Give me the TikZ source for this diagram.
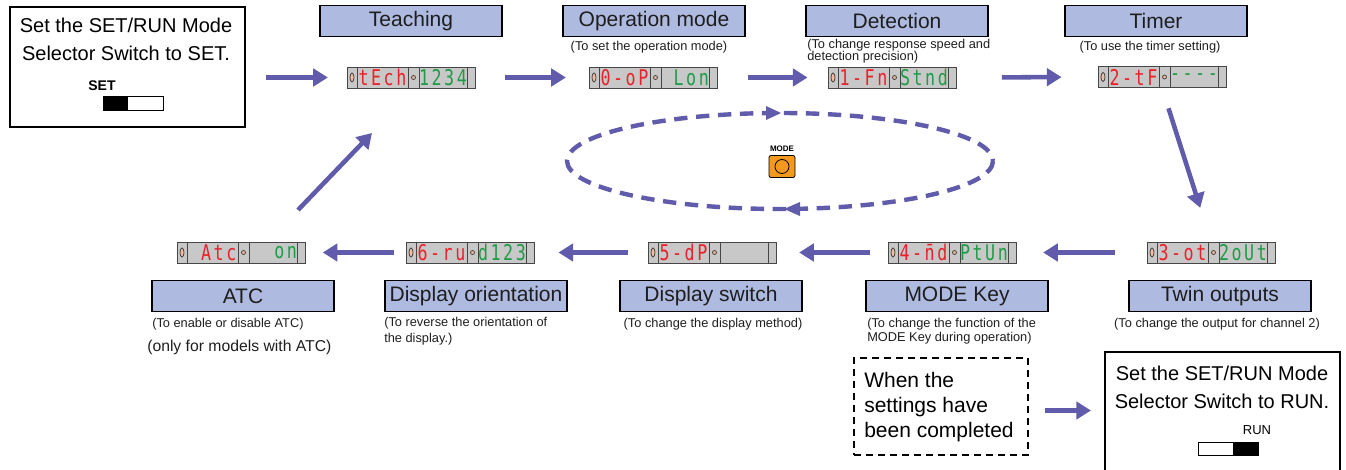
\documentclass[tikz,border=0pt]{standalone}
\usepackage{fontspec}
\usepackage{graphicx}
\setmainfont{Liberation Sans}
\newfontfamily\segfont{DejaVu Sans Mono}
\usetikzlibrary{arrows.meta,calc}

\definecolor{flowblue}{RGB}{96,91,170}
\definecolor{titlefill}{RGB}{174,186,223}
\definecolor{lcdgray}{RGB}{200,200,200}
\definecolor{lcdedge}{RGB}{70,70,70}
\definecolor{segred}{RGB}{232,33,43}
\definecolor{seggreen}{RGB}{31,155,72}
\definecolor{lampfill}{RGB}{243,186,160}
\definecolor{keyorange}{RGB}{243,154,30}
\definecolor{inktext}{RGB}{30,30,30}

% four fixed-width character cells of a 7-segment readout
\newcommand\digits[4]{\scalebox{1}[1.3]{\makebox[9.4pt]{#1}\makebox[9.4pt]{#2}\makebox[9.4pt]{#3}\makebox[9.4pt]{#4}}}

% readout panel: name, centre, red digits, green digits
\newcommand\lcd[4]{%
  \begin{scope}[shift={#2}]
    \node[lcdframe] (#1) at (0,0) {};
    \draw[lcdline] (-54,-10.5) -- (-54,10.5) (-3,-10.5) -- (-3,10.5)
                   (8,-10.5) -- (8,10.5) (56,-10.5) -- (56,10.5);
    \draw[lcdline, fill=lampfill] (-59,0) ellipse [x radius=2, y radius=4.5];
    \draw[lcdline, fill=lampfill] (2.5,0) circle [radius=2];
    \node[segtext, text=segred] (#1-red) at (-28.5,0) {#3};
    \node[segtext, text=seggreen] (#1-green) at (32,0) {#4};
  \end{scope}}

\tikzset{
  lcdframe/.style={rectangle, draw=lcdedge, fill=lcdgray, line width=0.7pt,
    minimum width=96pt, minimum height=15.75pt, inner sep=0pt},
  lcdline/.style={draw=lcdedge, line width=0.6pt},
  segtext/.style={font=\segfont\fontsize{12.5pt}{13pt}\selectfont, inner sep=0pt},
  titlebox/.style={rectangle, draw=black, line width=1.1pt, fill=titlefill,
    minimum width=136.5pt, minimum height=23.5pt, inner sep=0pt,
    text=inktext, font=\fontsize{15.75pt}{18pt}\selectfont},
  note/.style={inner sep=0pt, text=inktext, font=\fontsize{9.6pt}{9pt}\selectfont},
  bignote/.style={inner sep=0pt, text=black, font=\fontsize{15pt}{18pt}\selectfont},
  flow/.style={draw=flowblue, line width=3.4pt, -{Triangle[length=11pt,width=13pt]}},
  cycleline/.style={draw=flowblue, line width=3.3pt, dash pattern=on 10pt off 6.5pt},
  frame/.style={rectangle, draw=black, line width=1.1pt, inner sep=0pt},
  slider/.style={rectangle, draw=black, line width=0.6pt, fill=white, inner sep=0pt,
    minimum width=45pt, minimum height=10pt},
}

\begin{document}
\begin{tikzpicture}[x=0.75pt, y=-0.75pt]
\useasboundingbox (0,0) rectangle (1346,470);

% ---------- start: switch to SET ----------
\node[frame, minimum width=176.25pt, minimum height=90pt] (setbox) at (127.5,67) {};
\node[bignote] (setL1) at (126,25) {Set the SET/RUN Mode};
\node[bignote] (setL2) at (126,53) {Selector Switch to SET.};
\node[inner sep=0pt, font=\bfseries\fontsize{10.5pt}{11pt}\selectfont] (setlab) at (102,86) {SET};
\node[slider] (setsw) at (133,103.5) {};
\fill ($(setsw.south west)+(0.3pt,0.3pt)$) rectangle ($(setsw.north west)+(25,0)$);

% ---------- top row ----------
\node[titlebox] (tTeach) at (411,21) {Teaching};
\node[titlebox] (tOp) at (654,21) {Operation mode};
\node[titlebox] (tDet) at (897,21) {Detection};
\node[titlebox] (tTim) at (1156,21) {Timer};

\node[note] (nOp) at (649,47) {(To set the operation mode)};
\node[note, anchor=west, align=left] (nDet) at (807,51) {(To change response speed and\\detection precision)};
\node[note] (nTim) at (1150,47) {(To use the timer setting)};

\lcd{tdisp}{(411,77.5)}{\digits{t}{E}{c}{h}}{\digits{1}{2}{3}{4}}
\lcd{opdisp}{(653,77.5)}{\digits{0}{-}{o}{P}}{\digits{}{L}{o}{n}}
\lcd{detdisp}{(892,77.5)}{\digits{1}{-}{F}{n}}{\digits{S}{t}{n}{d}}
\lcd{timdisp}{(1162,77)}{\digits{2}{-}{t}{F}}{\digits{-}{-}{-}{-}}

% ---------- bottom row ----------
\lcd{twindisp}{(1211,252.5)}{\digits{3}{-}{o}{t}}{\digits{2}{o}{U}{t}}
\lcd{keydisp}{(952,252.5)}{\digits{4}{-}{n̄}{d}}{\digits{P}{t}{U}{n}}
\lcd{swdisp}{(712,252.5)}{\digits{5}{-}{d}{P}}{\digits{}{}{}{}}
\lcd{oridisp}{(470,252.5)}{\digits{6}{-}{r}{u}}{\digits{d}{1}{2}{3}}
\lcd{atcdisp}{(241,252.5)}{\digits{}{A}{t}{c}}{\digits{}{}{o}{n}}

\node[titlebox] (tTwin) at (1220,296) {Twin outputs};
\node[titlebox] (tKey) at (957,296) {MODE Key};
\node[titlebox] (tSw) at (711,296) {Display switch};
\node[titlebox] (tOri) at (476,296) {Display orientation};
\node[titlebox] (tAtc) at (243,296) {ATC};

\node[note] (nTwin) at (1217,324) {(To change the output for channel 2)};
\node[note, anchor=west, align=left, font=\fontsize{9.6pt}{10.5pt}\selectfont] (nKey) at (867,331) {(To change the function of the\\MODE Key during operation)};
\node[note] (nSw) at (713,324) {(To change the display method)};
\node[note, anchor=west, align=left, font=\fontsize{9.6pt}{12pt}\selectfont] (nOri) at (384,331) {(To reverse the orientation of\\the display.)};
\node[note, anchor=west] (nAtc) at (152,324) {(To enable or disable ATC)};
\node[inner sep=0pt, anchor=west, text=inktext, font=\fontsize{11.8pt}{14pt}\selectfont] (nAtc2) at (147,347) {(only for models with ATC)};

% ---------- MODE key loop ----------
\draw[cycleline] (780,161) ellipse [x radius=213, y radius=48];
\fill[flowblue] (766,106) -- (781,113) -- (766,120) -- cycle;
\fill[flowblue] (800,202) -- (784,209) -- (800,216) -- cycle;
\node[inner sep=0pt, font=\bfseries\fontsize{6pt}{6pt}\selectfont] (modelab) at (782,149) {MODE};
\node[draw=black, fill=keyorange, rounded corners=1.5pt, line width=0.6pt,
      minimum width=19.5pt, minimum height=16.5pt, inner sep=0pt] (modekey) at (782,166.5) {};
\draw[line width=0.6pt] (modekey.center) circle [radius=7];

% ---------- finish: switch to RUN ----------
\node[draw=black, dash pattern=on 5pt off 4pt, line width=0.8pt,
      minimum width=130.5pt, minimum height=72.75pt, inner sep=0pt] (donebox) at (941,406.5) {};
\node[bignote, anchor=west, align=left, font=\fontsize{15.75pt}{18.75pt}\selectfont] (donetext) at (864,407) {When the\\settings have\\been completed};

\node[frame, minimum width=176.25pt, minimum height=96pt] (runbox) at (1222.5,416) {};
\node[bignote] (runL1) at (1222,373) {Set the SET/RUN Mode};
\node[bignote] (runL2) at (1222,401) {Selector Switch to RUN.};
\node[inner sep=0pt, font=\fontsize{9.75pt}{10pt}\selectfont] (runlab) at (1257,430) {RUN};
\node[slider] (runsw) at (1228,449) {};
\fill ($(runsw.north east)+(-0.3pt,-0.3pt)$) rectangle ($(runsw.south east)+(-25,0)$);

% ---------- flow arrows ----------
\draw[flow, shorten <=15pt, shorten >=14pt] (setbox.east |- tdisp.west) -- (tdisp.west);
\draw[flow, shorten <=22.5pt, shorten >=17pt] (tdisp.east) -- (opdisp.west);
\draw[flow, shorten <=23pt, shorten >=15pt] (opdisp.east) -- (detdisp.west);
\draw[flow, shorten <=34pt, shorten >=27pt] (detdisp.east) -- (timdisp.west);
\draw[flow, shorten <=16pt, shorten >=26.5pt] (timdisp.south) -- (twindisp.north);
\draw[flow, shorten <=24pt, shorten >=20pt] (twindisp.west) -- (keydisp.east);
\draw[flow, shorten <=13.5pt, shorten >=17pt] (keydisp.west) -- (swdisp.east);
\draw[flow, shorten <=15pt, shorten >=18pt] (swdisp.west) -- (oridisp.east);
\draw[flow, shorten <=9pt, shorten >=13pt] (oridisp.west) -- (atcdisp.east);
\coordinate (backfrom) at (298,210);
\coordinate (backto) at (372,133);
\draw[flow] (backfrom) -- (backto);
\draw[flow, shorten <=12pt, shorten >=10pt] ($(donebox.east)+(0,4)$) -- ($(runbox.west |- donebox.east)+(0,4)$);
\end{tikzpicture}
\end{document}
